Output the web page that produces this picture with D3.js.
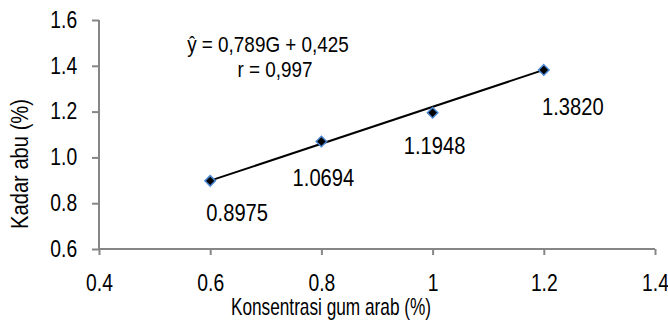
<!DOCTYPE html>
<html>
<head>
<meta charset="utf-8">
<script src="https://cdn.jsdelivr.net/npm/d3@7"></script>
<style>
  body { margin: 0; background: #fff; }
  text { font-family: "Liberation Sans", Arial, sans-serif; fill: #000; }
</style>
</head>
<body>
<div id="chart"></div>
<script>
// data
var gumArab = [0.6, 0.8, 1.0, 1.2];
var kadarAbu = [0.8975, 1.0694, 1.1948, 1.3820];
var pointLabels = ['0.8975', '1.0694', '1.1948', '1.3820'];
var xTicks = [0.4, 0.6, 0.8, 1.0, 1.2, 1.4];
var xTickLabels = ['0.4', '0.6', '0.8', '1', '1.2', '1.4'];
var yTicks = [0.6, 0.8, 1.0, 1.2, 1.4, 1.6];
var slope = 0.789, intercept = 0.425;

var width = 668, height = 327;
var margin = {top: 20, right: 13, bottom: 78, left: 99};
var narrow = 0.84; // squeeze Liberation Sans toward Arial Narrow

var svg = d3.select('#chart').append('svg')
    .attr('width', width)
    .attr('height', height);

var x = d3.scaleLinear().domain([0.4, 1.4]).range([margin.left, width - margin.right]);
var y = d3.scaleLinear().domain([0.6, 1.6]).range([height - margin.bottom, margin.top]);

var axisColor = '#868686';

// narrow text helper
function label(px, py, str, size, sx, rot){
    var g = svg.append('g')
        .attr('transform', 'translate(' + px + ',' + py + ')' + (rot ? ' rotate(' + rot + ')' : ''));
    g.append('text')
        .attr('transform', 'scale(' + sx + ',1)')
        .attr('font-size', size + 'px')
        .attr('text-anchor', 'middle')
        .text(str);
    return g;
}

// y axis
var yAxis = svg.append('g')
    .attr('transform', 'translate(' + margin.left + ',0)')
    .call(d3.axisLeft(y).tickValues(yTicks).tickFormat(d3.format('.1f')).tickSize(7).tickPadding(19));
yAxis.selectAll('text')
    .attr('font-size', '23px')
    .attr('font-family', '"Liberation Sans", Arial, sans-serif')
    .attr('transform', 'scale(' + narrow + ',1)');

// x axis
var xAxis = svg.append('g')
    .attr('transform', 'translate(0,' + y(0.6) + ')')
    .call(d3.axisBottom(x).tickValues(xTicks).tickFormat(function(d, i){ return xTickLabels[i]; }).tickSize(6).tickPadding(20));
xAxis.selectAll('text')
    .attr('font-size', '23px')
    .attr('font-family', '"Liberation Sans", Arial, sans-serif')
    .attr('transform', 'scale(' + narrow + ',1)');

svg.selectAll('.domain, .tick line')
    .attr('stroke', axisColor)
    .attr('stroke-width', 2);
yAxis.select('.domain').attr('d', 'M0,' + y(1.6) + 'V' + y(0.6));
xAxis.select('.domain').attr('d', 'M' + margin.left + ',0H' + x(1.4));

// trend line
svg.append('line')
    .attr('x1', x(gumArab[0]))
    .attr('y1', y(slope * gumArab[0] + intercept))
    .attr('x2', x(gumArab[gumArab.length - 1]))
    .attr('y2', y(kadarAbu[kadarAbu.length - 1]))
    .attr('stroke', '#000')
    .attr('stroke-width', 2);

// markers
svg.selectAll('.pt')
    .data(gumArab)
    .enter().append('path')
        .attr('class', 'pt')
        .attr('d', d3.symbol().type(d3.symbolDiamond2).size(70))
        .attr('transform', function(d, i){ return 'translate(' + x(d) + ',' + y(kadarAbu[i]) + ')'; })
        .attr('fill', '#000')
        .attr('stroke', '#4a86cf')
        .attr('stroke-width', 1.5);

// data labels
var labelOffset = [[27, 40], [2, 44], [2, 41], [29, 45]];
gumArab.forEach(function(d, i){
    label(x(d) + labelOffset[i][0], y(kadarAbu[i]) + labelOffset[i][1], pointLabels[i], 24, narrow);
});

// equation
label(268, 52, 'ŷ = 0,789G + 0,425', 22.5, narrow);
label(275, 77, 'r = 0,997', 22.5, narrow);

// axis titles
label(331, 315, 'Konsentrasi gum arab (%)', 23, 0.75);
label(28, 164, 'Kadar abu (%)', 24, narrow, -90);
</script>
</body>
</html>
